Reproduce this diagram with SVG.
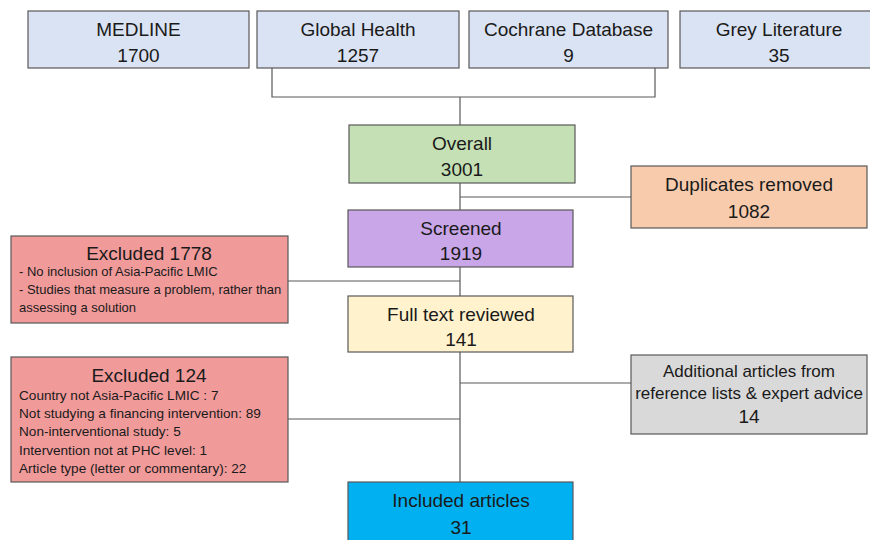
<svg xmlns="http://www.w3.org/2000/svg" width="870" height="540" viewBox="0 0 870 540">
<style>
.b{stroke:#595959;stroke-width:1.2}
.t{font-family:"Liberation Sans",Arial,sans-serif;font-size:19px;fill:#1a1a1a;text-anchor:middle}
.s{font-family:"Liberation Sans",Arial,sans-serif;font-size:13px;fill:#1a1a1a}
.s2{font-family:"Liberation Sans",Arial,sans-serif;font-size:13.6px;fill:#1a1a1a}
.c{stroke:#595959;stroke-width:1.2;fill:none}
</style>
<rect width="870" height="540" fill="#ffffff"/>
<g id="connectors">
<path class="c" d="M272 68V97H655V68M460 97V125M460 183V482M460 197H631M288 281H460M288 419H460M460 383H631"/>
</g>
<g id="medline"><rect class="b" x="28" y="11" width="221" height="57" fill="#dae3f3"/><text class="t" x="138.5" y="36">MEDLINE</text><text class="t" x="138.5" y="62">1700</text></g>
<g id="global-health"><rect class="b" x="257" y="11" width="202" height="57" fill="#dae3f3"/><text class="t" x="358" y="36">Global Health</text><text class="t" x="358" y="62">1257</text></g>
<g id="cochrane"><rect class="b" x="469" y="11" width="199" height="57" fill="#dae3f3"/><text class="t" x="568.5" y="36">Cochrane Database</text><text class="t" x="568.5" y="62">9</text></g>
<g id="grey"><rect class="b" x="680" y="11" width="200" height="57" fill="#dae3f3"/><text class="t" x="779" y="36">Grey Literature</text><text class="t" x="779" y="62">35</text></g>
<g id="overall"><rect class="b" x="349" y="125" width="226" height="58" fill="#c5e0b4"/><text class="t" x="462" y="150">Overall</text><text class="t" x="462" y="176">3001</text></g>
<g id="duplicates"><rect class="b" x="631" y="166" width="236" height="62" fill="#f8cbad"/><text class="t" x="749" y="191">Duplicates removed</text><text class="t" x="749" y="218">1082</text></g>
<g id="screened"><rect class="b" x="348" y="210" width="225" height="57" fill="#c8a6e8"/><text class="t" x="461" y="235">Screened</text><text class="t" x="461" y="260">1919</text></g>
<g id="excluded-1778"><rect class="b" x="11" y="236" width="277" height="87" fill="#f19a9a"/><text class="t" x="149" y="260">Excluded 1778</text><text class="s" x="19" y="276">- No inclusion of Asia-Pacific LMIC</text><text class="s" x="19" y="294">- Studies that measure a problem, rather than</text><text class="s" x="19" y="312">assessing a solution</text></g>
<g id="full-text"><rect class="b" x="348" y="296" width="225" height="56" fill="#fff2cc"/><text class="t" x="461" y="321">Full text reviewed</text><text class="t" x="461" y="346">141</text></g>
<g id="excluded-124"><rect class="b" x="11" y="357" width="277" height="125" fill="#f19a9a"/><text class="t" x="149" y="382">Excluded 124</text><text class="s2" x="19" y="400">Country not Asia-Pacific LMIC : 7</text><text class="s2" x="19" y="418">Not studying a financing intervention: 89</text><text class="s2" x="19" y="436">Non-interventional  study: 5</text><text class="s2" x="19" y="455">Intervention  not at PHC level: 1</text><text class="s2" x="19" y="473">Article type (letter or commentary):  22</text></g>
<g id="additional"><rect class="b" x="631" y="355" width="236" height="79" fill="#d9d9d9"/><text class="t" x="749" y="377" style="font-size:17px">Additional articles from</text><text class="t" x="749" y="399" style="font-size:17px">reference lists &amp; expert advice</text><text class="t" x="749" y="423">14</text></g>
<g id="included"><rect class="b" x="348" y="482" width="225" height="70" fill="#00b0f0"/><text class="t" x="461" y="507">Included articles</text><text class="t" x="461" y="534">31</text></g>
</svg>
